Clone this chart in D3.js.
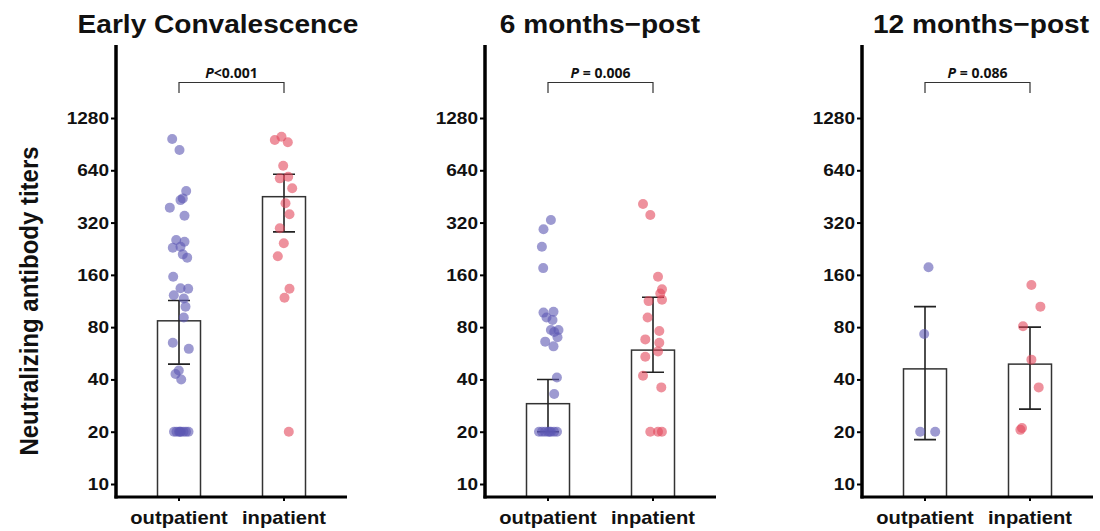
<!DOCTYPE html>
<html lang="en">
<head>
<meta charset="UTF-8">
<title>Neutralizing antibody titers</title>
<script src="https://cdn.jsdelivr.net/npm/d3@7"></script>
<style>
    body { margin: 0; background: #fff; }
    text { font-family: "Liberation Sans", Arial, sans-serif; fill: #111; }
    .title { font-size: 26px; font-weight: bold; }
    .tick-label { font-size: 17px; font-weight: bold; }
    .cat-label { font-size: 18px; font-weight: bold; }
    .ylab { font-size: 24px; font-weight: bold; }
    .plab { font-family: "Open Sans", sans-serif; font-size: 14px; font-weight: bold; }
    .bar { fill: #fff; stroke: #333; stroke-width: 1.5; }
    .err { stroke: #222; stroke-width: 1.6; fill: none; }
    .out { fill: #5b57b3; fill-opacity: 0.6; }
    .inp { fill: #e3475b; fill-opacity: 0.6; }
</style>
</head>
<body>
<script>
    const width = 1100;
    const height = 531;

    // categories / labels
    const groups = ["outpatient", "inpatient"];
    const panelTitles = ["Early Convalescence", "6 months\u2212post", "12 months\u2212post"];
    const pLabels = [["P", "<0.001"], ["P", " = 0.006"], ["P", " = 0.086"]];
    const yTicks = [10, 20, 40, 80, 160, 320, 640, 1280];

    // bar heights (geometric means) and error bar ends, [outpatient, inpatient]
    const barMeans = [[87, 451], [29, 59], [46, 49]];
    const errLow = [[49, 283], [20, 44], [18, 27]];
    const errHigh = [[114, 607], [40, 119], [105, 80]];

    // individual titers: [value, jitter]
    const earlyOut = [[970,-0.68],[837,0.05],[486,0.72],[441,0.38],[431,0.15],[390,-0.92],[350,0.55],
        [254,-0.28],[248,0.55],[229,-0.62],[232,0.15],[210,0.38],[201,0.82],[156,-0.58],[134,0.15],
        [133,0.92],[122,-0.52],[117,0.48],[105,0.65],[91,0.48],[65,-0.62],[60,0.98],[45,-0.02],
        [43,-0.35],[40,0.22],[20,-0.5],[20,-0.25],[20,0],[20,0.2],[20,0.45],[20,0.7],[20,0.95],[20,0.1]];
    const earlyIn = [[956,-0.92],[999,-0.25],[927,0.38],[680,-0.08],[575,-0.42],[588,0.42],[504,0.82],
        [413,0.15],[357,0.55],[297,-0.42],[243,-0.02],[205,-0.62],[133,0.55],[118,0.05],[20,0.48]];
    const m6Out = [[331,0.29],[293,-0.45],[232,-0.61],[175,-0.48],[97,-0.45],[98,0.55],[91,-0.15],
        [88,0.45],[77,0.29],[77,1.05],[75,0.62],[70,0.95],[66,-0.28],[62,0.55],[41,0.89],[33,0.62],
        [20,-0.9],[20,-0.6],[20,-0.3],[20,0],[20,0.3],[20,0.6],[20,0.9],[20,0.15]];
    const m6In = [[409,-1.0],[354,-0.27],[156,0.5],[132,0.9],[125,0.73],[113,-0.44],[115,0.9],
        [91,-0.54],[76,0.63],[68,-0.77],[65,0.63],[58,0.5],[54,-0.77],[42,-1.0],[36,0.83],
        [20,-0.27],[20,0.5],[20,0.89]];
    const m12Out = [[177,0.35],[73,-0.08],[20,-0.48],[20,1.02]];
    const m12In = [[140,0.14],[105,1.04],[81,-0.7],[52,0.14],[36,0.87],[20.5,-0.96],[21,-0.8]];
    const panelPoints = [[earlyOut, earlyIn], [m6Out, m6In], [m12Out, m12In]];

    // layout
    const axisX = [116, 485, 862];
    const panelW = 231;
    const titleX = [218, 600, 981];
    const yTop = 45, yBottom = 497;
    const jitterPx = 10;
    const stretch = 1.12;

    const y = d3.scaleLog().base(2).domain([10, 1280]).range([484, 118]);

    const svg = d3.select("body").append("svg").attr("width", width).attr("height", height);

    // stretched text helper (reference text is a bit wider than it is tall)
    function label(g, x, yy, txt, cls, anchor, sx) {
        return g.append("text")
            .attr("class", cls)
            .attr("text-anchor", anchor)
            .attr("transform", `translate(${x},${yy}) scale(${sx},1)`)
            .text(txt);
    }

    svg.append("text")
        .attr("class", "ylab")
        .attr("text-anchor", "middle")
        .attr("transform", "translate(38,301) rotate(-90) scale(1,1.08)")
        .text("Neutralizing antibody titers");

    panelTitles.forEach(function(title, i) {
        const g = svg.append("g");
        const x0 = axisX[i];
        const x = d3.scalePoint().domain(groups).range([x0, x0 + panelW]).padding(0.6);
        const bw = 43;

        label(g, titleX[i], 33, title, "title", "middle", 1.08);

        // bars
        g.selectAll("rect.bar")
            .data(groups)
            .enter()
            .append("rect")
            .attr("class", "bar")
            .attr("x", d => x(d) - bw / 2)
            .attr("width", bw)
            .attr("y", (d, j) => y(barMeans[i][j]))
            .attr("height", (d, j) => yBottom - y(barMeans[i][j]));

        // error bars
        groups.forEach(function(grp, j) {
            const cx = x(grp);
            const lo = y(errLow[i][j]), hi = y(errHigh[i][j]);
            g.append("path").attr("class", "err")
                .attr("d", `M${cx},${lo}V${hi}M${cx - 11},${hi}H${cx + 11}M${cx - 11},${lo}H${cx + 11}`);
        });

        // points
        groups.forEach(function(grp, j) {
            g.selectAll("circle." + (j === 0 ? "out" : "inp"))
                .data(panelPoints[i][j])
                .enter()
                .append("circle")
                .attr("class", j === 0 ? "out" : "inp")
                .attr("cx", d => x(grp) + d[1] * jitterPx)
                .attr("cy", d => y(d[0]))
                .attr("r", 5);
        });

        // axes
        const yAxis = d3.axisLeft(y).tickValues(yTicks).tickFormat(d3.format("d")).tickSize(5).tickPadding(2);
        const ya = g.append("g").attr("transform", `translate(${x0},0)`).call(yAxis);
        ya.select(".domain").remove();
        ya.selectAll(".tick line").attr("stroke", "#000").attr("stroke-width", 2);
        ya.selectAll(".tick text").remove();
        yTicks.forEach(function(t) {
            label(g, x0 - 7, y(t) + 6, String(t), "tick-label", "end", stretch);
        });
        g.append("line").attr("x1", x0).attr("x2", x0).attr("y1", yTop).attr("y2", yBottom + 1.5)
            .attr("stroke", "#000").attr("stroke-width", 3.5);
        g.append("line").attr("x1", x0 - 1.5).attr("x2", x0 + panelW).attr("y1", yBottom).attr("y2", yBottom)
            .attr("stroke", "#000").attr("stroke-width", 3);
        groups.forEach(function(grp) {
            g.append("line").attr("x1", x(grp)).attr("x2", x(grp)).attr("y1", yBottom).attr("y2", yBottom + 4)
                .attr("stroke", "#000").attr("stroke-width", 2);
            label(g, x(grp), 524, grp, "cat-label", "middle", stretch);
        });

        // significance bracket
        const xa = x(groups[0]), xb = x(groups[1]);
        g.append("path").attr("fill", "none").attr("stroke", "#333").attr("stroke-width", 1.2)
            .attr("d", `M${xa},93V82.5H${xb}V93`);
        const pt = g.append("text").attr("class", "plab").attr("text-anchor", "middle")
            .attr("x", (xa + xb) / 2).attr("y", 78);
        pt.append("tspan").attr("font-style", "italic").text(pLabels[i][0]);
        pt.append("tspan").text(pLabels[i][1]);
    });
</script>
</body>
</html>
